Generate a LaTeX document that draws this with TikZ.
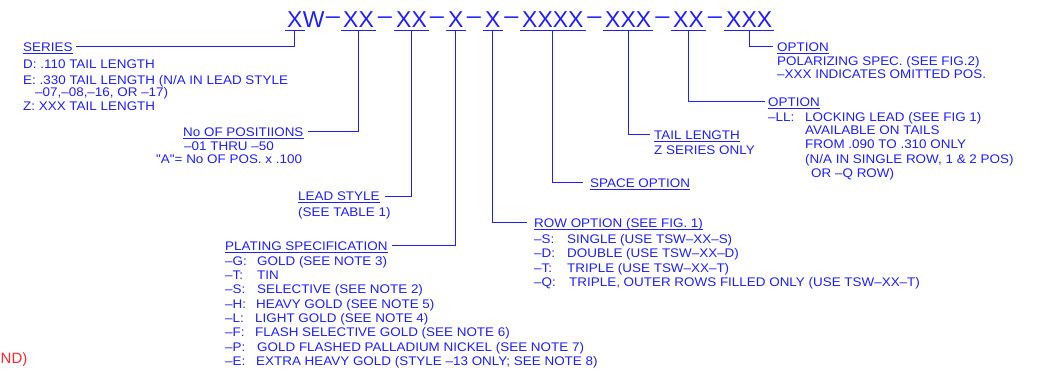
\documentclass[tikz,border=0pt]{standalone}
\usepackage{fontspec}
\setmainfont{Liberation Sans}
\newfontfamily\cadfont[FakeStretch=1.075]{Liberation Sans}
\definecolor{cadblue}{RGB}{30,30,255}
\definecolor{cadred}{RGB}{255,40,40}
\newcommand\ulnode[1]{\draw[ln] ([yshift=-2pt]#1.south west) -- ([yshift=-2pt]#1.south east);}
\newcommand\codeul[1]{\draw[ln] ([xshift=-2pt,yshift=-3pt]#1.base west) -- ([xshift=2pt,yshift=-3pt]#1.base east);}
\newcommand\cdash{\raisebox{3.5pt}{\scalebox{1.1}[1]{–}}}
\begin{document}
\begin{tikzpicture}[x=1pt,y=-1pt,color=cadblue,
  code/.style={anchor=base west, inner sep=0pt, font=\fontsize{23}{23}\selectfont},
  dsh/.style={anchor=base, inner sep=0pt, font=\fontsize{23}{23}\selectfont},
  lbl/.style={anchor=base west, inner sep=0pt, text height=9pt, text depth=0pt, font=\cadfont\fontsize{12.5}{14}\selectfont},
  ln/.style={line width=0.9pt},
  con/.style={line width=0.9pt}]
\useasboundingbox (0,0) rectangle (1046,375);
% ---- top part number ----
\node[code] (g1) at (287,27) {X};
\node[code] (w) at (g1.base east) {W};
\node[dsh] (d1) at (333,27) {\cdash};
\node[code] (g2) at (343,27) {XX};
\node[dsh] (d2) at (385,27) {\cdash};
\node[code] (g3) at (396,27) {XX};
\node[dsh] (d3) at (437,27) {\cdash};
\node[code] (g4) at (448,27) {X};
\node[dsh] (d4) at (474,27) {\cdash};
\node[code] (g5) at (485,27) {X};
\node[dsh] (d5) at (511.5,27) {\cdash};
\node[code] (g6) at (522,27) {XXXX};
\node[dsh] (d6) at (594.5,27) {\cdash};
\node[code] (g7) at (605,27) {XXX};
\node[dsh] (d7) at (662.5,27) {\cdash};
\node[code] (g8) at (673,27) {XX};
\node[dsh] (d8) at (715,27) {\cdash};
\node[code] (g9) at (726,27) {XXX};
\codeul{g1}\codeul{g2}\codeul{g3}\codeul{g4}\codeul{g5}\codeul{g6}\codeul{g7}\codeul{g8}\codeul{g9}
% ---- series ----
\node[lbl] (series) at (23,51) {SERIES};
\node[lbl] (s1) at (23,68.5) {D: .110 TAIL LENGTH};
\node[lbl] (s2) at (23,84) {E: .330 TAIL LENGTH (N/A IN LEAD STYLE};
\node[lbl] (s3) at (35,96) {–07,–08,–16, OR –17)};
\node[lbl] (s4) at (23,110.5) {Z: XXX TAIL LENGTH};
% ---- positions ----
\node[lbl] (pos) at (183,136) {No OF POSITIIONS};
\node[lbl] (p1) at (184,150) {–01 THRU –50};
\node[lbl] (p2) at (156,163) {"A"= No OF POS. x .100};
% ---- lead style ----
\node[lbl] (lead) at (298,200.5) {LEAD STYLE};
\node[lbl] (l1) at (298,216) {(SEE TABLE 1)};
% ---- plating ----
\node[lbl] (plate) at (225,250) {PLATING SPECIFICATION};
\node[lbl] (pc1) at (225,265) {–G:};   \node[lbl] (pd1) at (257,265) {GOLD (SEE NOTE 3)};
\node[lbl] (pc2) at (225,279.3) {–T:}; \node[lbl] (pd2) at (257,279.3) {TIN};
\node[lbl] (pc3) at (225,293.6) {–S:}; \node[lbl] (pd3) at (257,293.6) {SELECTIVE (SEE NOTE 2)};
\node[lbl] (pc4) at (225,308) {–H:};   \node[lbl] (pd4) at (256,308) {HEAVY GOLD (SEE NOTE 5)};
\node[lbl] (pc5) at (225,322.3) {–L:}; \node[lbl] (pd5) at (255,322.3) {LIGHT GOLD (SEE NOTE 4)};
\node[lbl] (pc6) at (225,336.6) {–F:}; \node[lbl] (pd6) at (255,336.6) {FLASH SELECTIVE GOLD (SEE NOTE 6)};
\node[lbl] (pc7) at (225,351) {–P:};   \node[lbl] (pd7) at (257,351) {GOLD FLASHED PALLADIUM NICKEL (SEE NOTE 7)};
\node[lbl] (pc8) at (225,365) {–E:};   \node[lbl] (pd8) at (256,365) {EXTRA HEAVY GOLD (STYLE –13 ONLY; SEE NOTE 8)};
% ---- row option ----
\node[lbl] (row) at (534,227) {ROW OPTION (SEE FIG. 1)};
\node[lbl] (rc1) at (534,243) {–S:}; \node[lbl] (rd1) at (567,243) {SINGLE (USE TSW–XX–S)};
\node[lbl] (rc2) at (534,257) {–D:}; \node[lbl] (rd2) at (567,257) {DOUBLE (USE TSW–XX–D)};
\node[lbl] (rc3) at (534,272) {–T:}; \node[lbl] (rd3) at (567,272) {TRIPLE (USE TSW–XX–T)};
\node[lbl] (rc4) at (534,286) {–Q:}; \node[lbl] (rd4) at (569,286) {TRIPLE, OUTER ROWS FILLED ONLY (USE TSW–XX–T)};
% ---- space option ----
\node[lbl] (space) at (590,187) {SPACE OPTION};
% ---- tail length ----
\node[lbl] (tail) at (654,139) {TAIL LENGTH};
\node[lbl] (t1) at (654,154) {Z SERIES ONLY};
% ---- locking option ----
\node[lbl] (lock) at (768,106) {OPTION};
\node[lbl] (k0) at (768,121) {–LL:};
\node[lbl] (k1) at (805,121) {LOCKING LEAD (SEE FIG 1)};
\node[lbl] (k2) at (805,134.5) {AVAILABLE ON TAILS};
\node[lbl] (k3) at (805,148) {FROM .090 TO .310 ONLY};
\node[lbl] (k4) at (805,163) {(N/A IN SINGLE ROW, 1 \& 2 POS)};
\node[lbl] (k5) at (811,177) {OR –Q ROW)};
% ---- polarizing option ----
\node[lbl] (polar) at (777,51) {OPTION};
\node[lbl] (o1) at (777,65) {POLARIZING SPEC. (SEE FIG.2)};
\node[lbl] (o2) at (777,78) {–XXX INDICATES OMITTED POS.};
% ---- red fragment ----
\node[anchor=base west, inner sep=0pt, text=cadred, font=\fontsize{15}{15}\selectfont] (red) at (0.5,363) {ND)};
% ---- underlines of headings ----
\ulnode{series}\ulnode{pos}\ulnode{lead}\ulnode{plate}\ulnode{row}\ulnode{space}\ulnode{tail}\ulnode{lock}\ulnode{polar}
% ---- connectors ----
\draw[con] ([yshift=-3pt]g1.base) |- ([xshift=3pt]series.east);
\draw[con] ([yshift=-3pt]g2.base) |- ([xshift=4pt]pos.east);
\draw[con] ([yshift=-3pt]g3.base) |- ([xshift=5pt]lead.east);
\draw[con] ([yshift=-3pt]g4.base) |- ([xshift=4pt]plate.east);
\draw[con] ([yshift=-3pt]g5.base) |- ([xshift=-7pt]row.west);
\draw[con] ([yshift=-3pt]g6.base) |- ([xshift=-7pt]space.west);
\draw[con] ([yshift=-3pt]g7.base) |- ([xshift=-4pt]tail.west);
\draw[con] ([yshift=-3pt]g8.base) |- ([xshift=-3pt]lock.west);
\draw[con] ([yshift=-3pt]g9.base) |- ([xshift=-4pt]polar.west);
\end{tikzpicture}
\end{document}
